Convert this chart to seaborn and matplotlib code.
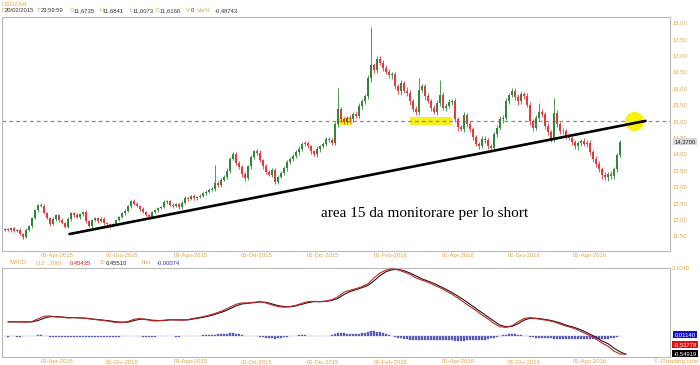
import numpy as np
import matplotlib
matplotlib.use("Agg")
import matplotlib.pyplot as plt
import seaborn as sns
from matplotlib.patches import Rectangle

# ---------------- data ----------------
symbol = "USDZAR"
first_open = 11.67
# closes every 2 trading days, starting 20/02/2015
closes = [
    11.70, 11.66, 11.72, 11.64, 11.68, 11.55, 11.47, 11.68, 11.80, 12.05,
    12.28, 12.45, 12.40, 12.18, 12.05, 11.85, 12.00, 12.12, 11.98, 11.90,
    11.77, 12.02, 12.18, 12.12, 12.06, 12.15, 12.22, 11.95, 11.80, 11.98,
    12.03, 11.96, 12.02, 11.88, 11.85, 11.80, 11.86, 11.98, 12.06, 12.18,
    12.26, 12.40, 12.57, 12.48, 12.42, 12.30, 12.22, 12.12, 12.08, 12.22,
    12.28, 12.34, 12.38, 12.52, 12.56, 12.44, 12.40, 12.46, 12.36, 12.50,
    12.66, 12.62, 12.70, 12.64, 12.68, 12.72, 12.80, 12.84, 12.88, 12.92,
    13.10, 13.05, 13.20, 13.30, 13.48, 13.85, 13.98, 13.72, 13.60, 13.38,
    13.25, 13.62, 13.90, 14.08, 14.02, 13.80, 13.62, 13.45, 13.36, 13.50,
    13.15, 13.30, 13.42, 13.55, 13.75, 13.85, 13.92, 14.05, 14.15, 14.30,
    14.33, 14.22, 14.08, 13.98, 14.15, 14.22, 14.30, 14.45, 14.42, 14.34,
    14.90, 15.35, 15.05, 14.98, 15.10, 15.05, 15.20, 15.15, 15.45, 15.60,
    15.75, 16.30, 16.70, 16.55, 16.88, 16.78, 16.62, 16.50, 16.40, 16.42,
    16.05, 15.90, 16.15, 15.92, 15.85, 15.60, 15.35, 15.28, 15.95, 16.05,
    15.75, 15.62, 15.40, 15.28, 15.55, 15.80, 15.40, 15.45, 15.58, 15.60,
    15.05, 14.80, 14.75, 15.18, 14.92, 14.75, 14.50, 14.30, 14.25, 14.45,
    14.42, 14.22, 14.18, 14.60, 14.78, 15.05, 15.10, 15.62, 15.80, 15.92,
    15.72, 15.60, 15.82, 15.75, 15.50, 15.00, 14.78, 15.10, 15.28, 15.20,
    14.85, 14.65, 14.45, 15.25, 14.90, 14.70, 14.68, 14.55, 14.48, 14.35,
    14.22, 14.32, 14.38, 14.30, 14.34, 14.05, 13.85, 13.68, 13.52, 13.35,
    13.28, 13.38, 13.32, 13.52, 13.95, 14.37,
]
# upper / lower wick lengths in hundredths
wick_up = [
    3, 5, 2, 4, 3, 6, 2, 5, 4, 3, 4, 3, 5, 6, 4, 3, 7, 5, 4, 6,
    3, 4, 5, 3, 6, 4, 2, 5, 3, 4, 5, 3, 4, 6, 3, 5, 4, 3, 5, 4,
    6, 4, 3, 5, 4, 3, 6, 4, 5, 3, 4, 5, 3, 6, 4, 3, 5, 4, 3, 6,
    5, 3, 4, 6, 4, 5, 3, 4, 6, 5, 56, 6, 5, 4, 7, 5, 8, 6, 5, 7,
    6, 5, 7, 4, 6, 8, 5, 6, 4, 7, 5, 6, 4, 7, 5, 6, 8, 5, 7, 6,
    5, 7, 6, 4, 8, 6, 5, 7, 6, 5, 8, 65, 6, 7, 5, 8, 6, 7, 9, 8,
    7, 10, 116, 8, 9, 10, 7, 8, 9, 6, 8, 7, 9, 6, 10, 8, 7, 9, 35, 8,
    7, 9, 6, 8, 10, 44, 7, 9, 8, 6, 9, 7, 8, 10, 6, 9, 7, 8, 6, 9,
    8, 6, 9, 7, 8, 10, 7, 9, 6, 8, 7, 9, 8, 6, 10, 8, 7, 9, 26, 8,
    6, 9, 7, 45, 8, 6, 9, 7, 8, 6, 7, 8, 6, 9, 7, 8, 6, 7, 9, 6,
    8, 7, 9, 6, 8, 5,
]
wick_dn = [
    4, 3, 5, 3, 4, 3, 6, 4, 3, 5, 5, 6, 4, 3, 5, 4, 3, 6, 5, 4,
    5, 3, 6, 4, 3, 5, 4, 6, 3, 5, 4, 6, 3, 5, 4, 6, 3, 5, 4, 3,
    5, 3, 6, 4, 3, 5, 4, 3, 6, 4, 3, 5, 4, 3, 6, 4, 5, 3, 4, 5,
    4, 6, 3, 5, 4, 3, 5, 6, 4, 3, 6, 5, 7, 4, 6, 8, 5, 7, 6, 9,
    7, 6, 8, 5, 7, 6, 9, 7, 5, 8, 6, 8, 5, 7, 9, 6, 7, 5, 8, 6,
    7, 5, 8, 6, 7, 9, 6, 8, 5, 7, 6, 9, 7, 8, 6, 10, 8, 7, 6, 9,
    8, 7, 10, 9, 8, 7, 10, 8, 9, 11, 9, 8, 10, 7, 9, 11, 8, 10, 9, 8,
    10, 8, 9, 7, 11, 9, 8, 10, 7, 9, 8, 10, 7, 9, 11, 8, 9, 7, 10, 8,
    9, 7, 10, 8, 9, 7, 11, 8, 10, 7, 8, 10, 7, 9, 8, 11, 9, 7, 10, 8,
    9, 7, 10, 8, 9, 11, 8, 10, 7, 9, 8, 10, 9, 7, 11, 8, 10, 9, 7, 12,
    9, 11, 8, 10, 7, 6,
]
# MACD (red) and signal (black) every 4 trading days, from day 2
macd_vals = [
    0.45, 0.45, 0.45, 0.44, 0.46, 0.54, 0.62, 0.63, 0.60, 0.59,
    0.57, 0.58, 0.57, 0.56, 0.53, 0.51, 0.49, 0.46, 0.43, 0.43,
    0.46, 0.53, 0.55, 0.52, 0.48, 0.48, 0.50, 0.52, 0.51, 0.50,
    0.52, 0.56, 0.59, 0.63, 0.68, 0.74, 0.81, 0.90, 0.99, 1.03,
    1.03, 1.05, 1.07, 1.03, 0.97, 0.92, 0.90, 0.92, 0.96, 1.02,
    1.07, 1.08, 1.07, 1.09, 1.13, 1.22, 1.36, 1.42, 1.47, 1.53,
    1.62, 1.80, 1.95, 2.04, 2.08, 2.05, 1.98, 1.91, 1.80, 1.73,
    1.67, 1.58, 1.50, 1.40, 1.30, 1.18, 1.05, 0.92, 0.80, 0.66,
    0.54, 0.40, 0.30, 0.28, 0.33, 0.45, 0.55, 0.58, 0.55, 0.52,
    0.49, 0.45, 0.38, 0.32, 0.27, 0.20, 0.11, 0.03, -0.08, -0.20,
    -0.30, -0.45, -0.54, -0.538,
]
signal_vals = [
    0.45, 0.45, 0.45, 0.45, 0.45, 0.49, 0.56, 0.61, 0.61, 0.60,
    0.58, 0.58, 0.57, 0.56, 0.54, 0.52, 0.50, 0.48, 0.45, 0.44,
    0.44, 0.49, 0.53, 0.53, 0.50, 0.49, 0.49, 0.51, 0.51, 0.51,
    0.51, 0.54, 0.57, 0.61, 0.65, 0.71, 0.77, 0.85, 0.94, 1.00,
    1.02, 1.04, 1.06, 1.05, 1.00, 0.95, 0.92, 0.91, 0.94, 0.99,
    1.04, 1.07, 1.07, 1.08, 1.11, 1.17, 1.29, 1.38, 1.44, 1.50,
    1.57, 1.71, 1.87, 1.99, 2.05, 2.06, 2.02, 1.95, 1.86, 1.77,
    1.70, 1.63, 1.54, 1.45, 1.35, 1.24, 1.12, 0.99, 0.86, 0.73,
    0.60, 0.47, 0.35, 0.30, 0.31, 0.39, 0.50, 0.56, 0.56, 0.54,
    0.51, 0.47, 0.42, 0.35, 0.30, 0.24, 0.16, 0.07, -0.02, -0.14,
    -0.22, -0.36, -0.47, -0.549,
]
# histogram every 2 trading days, in thousandths
hist_vals = [
    0, -1, 0, 1, -1, -2, 0, 2, 5,
    15, 30, 40, 35, 20, 5,
    -5, -10, -8, -6, -8, -6,
    -4, -2, -3, -5, -4, -3, -6, -8, -10, -12,
    -12, -14, -15, -16, -15, -12, -8, -5, 0,
    10, 20, 28, 25, 15, 5, -5,
    -12, -15, -10, -5, 0, 2, 5, 6, 4,
    0, -2, -3, 0, 4, 10, 14,
    18, 22, 26, 32, 38, 44, 50, 58,
    65, 72, 80, 88, 95, 100, 90, 75, 55,
    30, 15, 5, 2, 0, -10, -25, -40, -55,
    -60, -62, -55, -45, -30, -15, 0,
    15, 25, 35, 40, 35, 25, 15, 5, 0, 2,
    8, 15, 25, 45, 70, 95, 105, 100, 90,
    80, 75, 80, 90, 100, 120, 140, 155, 160,
    150, 130, 100, 70, 40, 10, -15, -35,
    -55, -70, -85, -95, -100, -105, -105, -100, -100,
    -102, -105, -108, -110, -112, -115, -118, -120, -122, -124,
    -125, -125, -124, -122, -120, -118, -115, -110, -105,
    -95, -80, -60, -35, -10, 15, 35, 55,
    70, 80, 75, 60, 40, 20, 5, -10,
    -25, -35, -40, -45, -50, -55, -60, -65, -68,
    -70, -72, -74, -76, -78, -80, -82, -84, -86,
    -88, -90, -92, -92, -90, -85, -80, -70,
    -55, -35, -10, 11,
]
tick_days = [35, 78, 124, 168, 212, 257, 302, 346, 390]
tick_labels = ["01-Apr-2015", "01-Giu-2015", "03-Ago-2015", "01-Ott-2015",
               "01-Dic-2015", "01-Feb-2016", "01-Apr-2016", "01-Giu-2016",
               "01-Ago-2016"]
price_ticks = [11.5, 12.0, 12.5, 13.0, 13.5, 14.0, 14.5, 15.0, 15.5, 16.0,
               16.5, 17.0, 17.5, 18.0]
level = 15.0
trend_days = [43, 427]
trend_vals = [11.55, 15.0]
zones = [(221, 231), (270, 298)]
target_day = 419
last_price = 14.37
macd_top = 2.104
last_hist, last_macd, last_signal = 0.01140, -0.53778, -0.54919

header_labels = ["D", "T", "O", "H", "L", "C", "V", "Var%"]
header_values = ["20/02/2015", "23:59:59", "11,6735", "11,6841", "11,6073",
                 "11,6166", "0", "-0,48743"]

# ---------------- style ----------------
sns.set_theme(style="white")
plt.rcParams["font.family"] = ["Liberation Sans", "DejaVu Sans"]
ORANGE = "#dfa645"
GREEN = "#33873a"
RED = "#e23a3f"
SPINE = "#b8b8b8"
HIST = "#5a5ab4"

W, H = 700, 365
fig = plt.figure(figsize=(W / 100, H / 100), dpi=100)
fig.patch.set_facecolor("white")


def fx(px):
    return px / W


def fy(py):
    return 1 - py / H


XL, XR = 2, 670
xlim = (-2, -2 + (XR - XL) / 1.5)

# main price axes
ax = fig.add_axes([fx(XL), fy(250.5), fx(XR - XL), (250.5 - 16.7) / H])
days = np.arange(0, 2 * len(closes), 2)
c = np.array(closes)
o = np.array([first_open] + closes[:-1])
hi = np.maximum(o, c) + np.array(wick_up) / 100
lo = np.minimum(o, c) - np.array(wick_dn) / 100
cols = [GREEN if cc >= oo else RED for oo, cc in zip(o, c)]
body_h = np.maximum(np.abs(c - o), 0.012)

for a, b in zones:
    ax.add_patch(Rectangle((a, level - 0.11), b - a, 0.22, color="#f6f01a",
                           zorder=1, lw=0))
ax.axhline(level, color="#8a8a8a", lw=0.9, ls=(0, (3, 2.5)), zorder=2)
ax.vlines(days, lo, hi, colors=cols, lw=0.6, zorder=3)
ax.bar(days, body_h, bottom=np.minimum(o, c), width=1.5, color=cols,
       linewidth=0, zorder=4)
ax.scatter([target_day], [level], s=190, color="#f8f20a", zorder=5, lw=0)
sns.lineplot(x=trend_days, y=trend_vals, ax=ax, color="black", lw=1.9,
             zorder=6)

ax.set_xlim(*xlim)
ax.set_ylim(11.049, 18.177)
ax.yaxis.tick_right()
ax.set_yticks(price_ticks)
ax.set_yticklabels([f"{v:.2f}".replace(".", ",") for v in price_ticks])
ax.set_xticks(tick_days)
ax.set_xticklabels(tick_labels)
ax.tick_params(axis="both", length=0, labelsize=4.2, colors=ORANGE, pad=1.8)
for s in ax.spines.values():
    s.set_color(SPINE)
    s.set_linewidth(0.8)
ax.set_xlabel("")
ax.set_ylabel("")

ax.text(0.6325, 0.16, "area 15 da monitorare per lo short",
        transform=ax.transAxes, ha="center", va="center", fontsize=11,
        family=["Liberation Serif", "DejaVu Serif"], color="black", zorder=7)

# last price box
fig.text(fx(685), fy(141.5), f"{last_price:.4f}".replace(".", ","),
         ha="center", va="center", fontsize=4.2, color="#222222",
         bbox=dict(boxstyle="square,pad=0.25", fc="#d8d8d8", ec="none"),
         zorder=10)

# MACD axes
ax2 = fig.add_axes([fx(XL), fy(357), fx(XR - XL), (357 - 268) / H])
hdays = np.arange(0, 2 * len(hist_vals), 2)
ax2.bar(hdays, np.array(hist_vals) / 1000, width=0.8, color=HIST,
        edgecolor=HIST, linewidth=0.25, zorder=2)
mdays = np.arange(2, 2 + 4 * len(macd_vals), 4)
sns.lineplot(x=mdays, y=signal_vals, ax=ax2, color="#1a1a1a", lw=0.8,
             zorder=3)
sns.lineplot(x=mdays, y=macd_vals, ax=ax2, color="#cc2020", lw=0.8, zorder=4)
ax2.set_xlim(*xlim)
ax2.set_ylim(-0.63, macd_top)
ax2.set_yticks([])
ax2.set_xticks(tick_days)
ax2.set_xticklabels(tick_labels)
ax2.tick_params(axis="both", length=0, labelsize=4.2, colors=ORANGE, pad=1.8)
for s in ax2.spines.values():
    s.set_color(SPINE)
    s.set_linewidth(0.8)
ax2.set_xlabel("")
ax2.set_ylabel("")

fig.text(fx(672), fy(268), f"{macd_top:.4f}".replace(".", ","), ha="left",
         va="center", fontsize=4.2, color=ORANGE)
for val, fc, py in [(last_hist, "#1010d0", 334.5), (last_macd, "#dd1010", 344.5),
                    (last_signal, "#000000", 353.5)]:
    fig.text(fx(685), fy(py), f"{val:.5f}".replace(".", ","), ha="center",
             va="center", fontsize=4.2, color="white",
             bbox=dict(boxstyle="square,pad=0.25", fc=fc, ec="none"))
fig.text(fx(698), fy(361), "© ITtrading.com", ha="right", va="center",
         fontsize=4.5, color=ORANGE)

# header texts
fig.text(fx(2), fy(4.5), symbol, ha="left", va="center", fontsize=4.5,
         color=ORANGE)
lab_x = [1, 37, 70, 99, 129, 156, 186, 197]
val_x = [5, 41, 74, 103, 133, 160, 191, 215]
for lab, lx, val, vx in zip(header_labels, lab_x, header_values, val_x):
    fig.text(fx(lx), fy(10.5), lab, ha="left", va="center", fontsize=4.2,
             color=ORANGE)
    fig.text(fx(vx), fy(10.5), val, ha="left", va="center", fontsize=4.2,
             color="#333333")

# MACD header
macd_parts = [("MACD", 9, ORANGE), ("(12 , 200)", 36, ORANGE),
              ("0,45435", 70, "#cc2020"), ("S", 100, ORANGE),
              ("0,45510", 106, "#222222"), ("hist", 142, ORANGE),
              ("-0,00074", 157, "#3030b0")]
for t, px, col in macd_parts:
    fig.text(fx(px), fy(263), t, ha="left", va="center", fontsize=4.2,
             color=col)

fig.savefig("out.png", dpi=100, facecolor="white")
